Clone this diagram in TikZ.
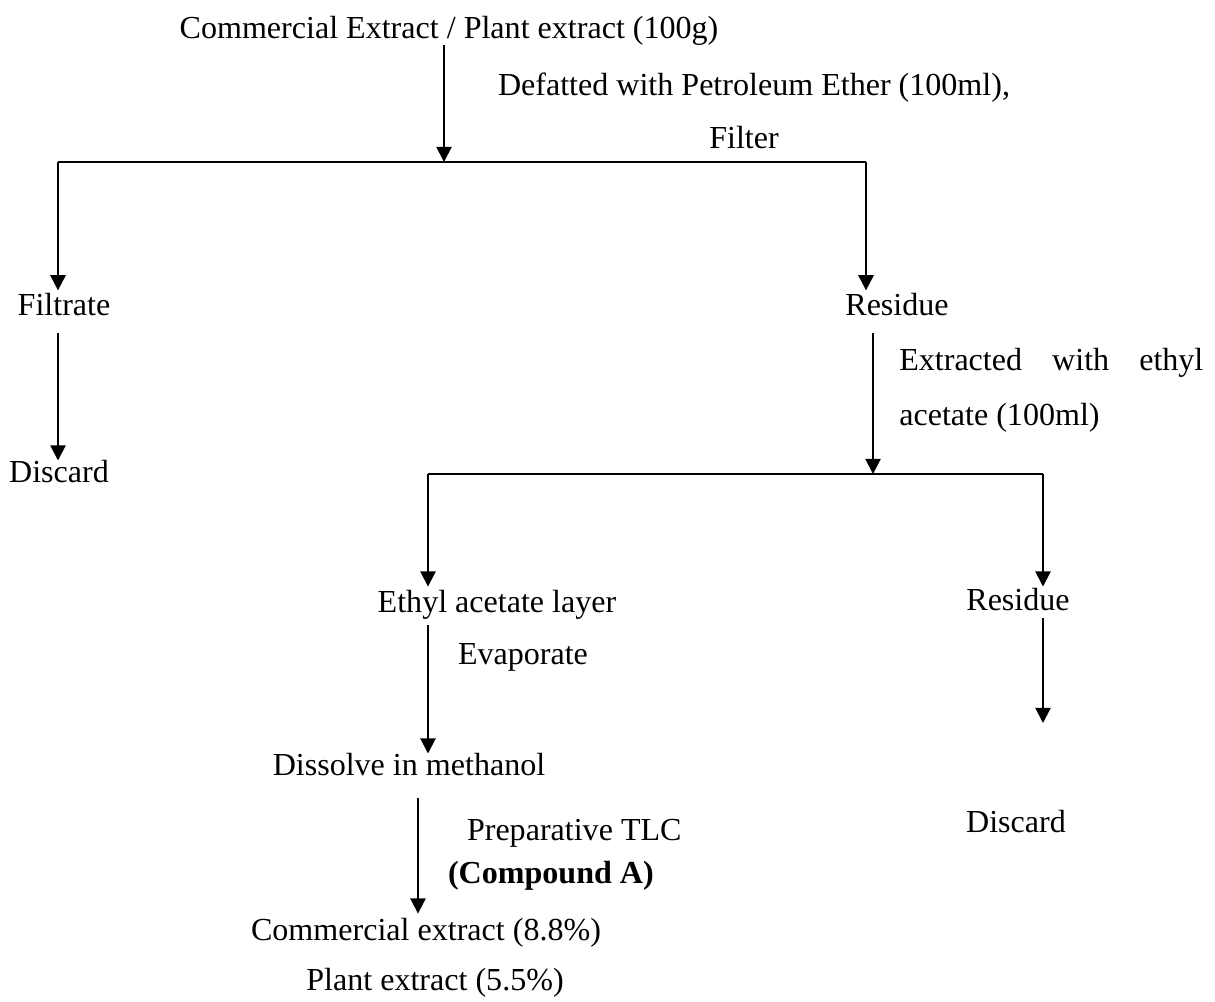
\documentclass[tikz,border=0pt]{standalone}
\usepackage{fontspec}
\setmainfont{Liberation Serif}
\usetikzlibrary{arrows.meta}
\tikzset{
  txt/.style={inner sep=0pt, outer sep=0pt, anchor=base, text height=0.75em, text depth=0.25em,
    font=\fontsize{22.8pt}{27pt}\selectfont},
  flow/.style={line width=1.4pt, -{Triangle[length=3.8mm,width=3.8mm]}},
  branch/.style={line width=1.4pt},
}
\begin{document}
\begin{tikzpicture}[x=0.025cm,y=-0.025cm]
\useasboundingbox (0,0) rectangle (1215,1001);
% texts
\node[txt] (src) at (449,38) {Commercial Extract / Plant extract (100g)};
\node[txt,anchor=base west] (defat) at (498,95) {Defatted with Petroleum Ether (100ml),};
\node[txt] (filter) at (744,148) {Filter};
\node[txt] (filtrate) at (64,315) {Filtrate};
\node[txt] (disc1) at (59,482) {Discard};
\node[txt] (res1) at (897,315) {Residue};
\node[anchor=north west,inner sep=0pt,text width=7.6cm,align=justify,
  font=\fontsize{22.8pt}{39pt}\selectfont] (ext) at (899,348)
  {Extracted with ethyl \linebreak acetate (100ml)};
\node[txt] (eal) at (497,612) {Ethyl acetate layer};
\node[txt,anchor=base west] (evap) at (458,664) {Evaporate};
\node[txt] (dis) at (409,775) {Dissolve in methanol};
\node[txt,anchor=base west] (tlc) at (467,840) {Preparative TLC};
\node[txt,anchor=base west,font=\fontsize{22.8pt}{27pt}\selectfont\bfseries] (cmpd) at (448,883) {(Compound A)};
\node[txt] (prod) at (426,940) {Commercial extract (8.8\%)};
\node[txt] (plant) at (435,990) {Plant extract (5.5\%)};
\node[txt] (res2) at (1018,610) {Residue};
\node[txt] (disc2) at (1016,832) {Discard};
% junctions
\coordinate (j1) at (444,162);
\coordinate (fl) at (58,162);
\coordinate (fr) at (866,162);
\coordinate (j2) at (873,474);
\coordinate (el) at (428,474);
\coordinate (er) at (1043,474);
\coordinate (rend) at (1043,723);
% connectors
\draw[flow,shorten <=2.8pt] (src.south -| j1) -- (j1);
\draw[branch] (fl) -- (fr);
\draw[flow,shorten >=10pt] (fl) -- (fl |- filtrate.north);
\draw[flow,shorten >=10pt] (fr) -- (fr |- res1.north);
\draw[flow,shorten <=10.6pt,shorten >=7.8pt] (filtrate.south -| fl) -- (fl |- disc1.north);
\draw[flow,shorten <=10.6pt] (res1.south -| j2) -- (j2);
\draw[branch] (el) -- (er);
\draw[flow,shorten >=10.6pt] (el) -- (el |- eal.north);
\draw[flow,shorten >=9.2pt] (er) -- (er |- res2.north);
\draw[flow,shorten <=7pt,shorten >=7.8pt] (eal.south -| el) -- (el |- dis.north);
\draw[flow,shorten <=3.5pt] (res2.south -| rend) -- (rend);
\draw[flow,shorten <=14pt,shorten >=11.3pt] ([xshift=6.4pt]dis.south) -- ([xshift=6.4pt]dis.south |- prod.north);
\end{tikzpicture}
\end{document}
